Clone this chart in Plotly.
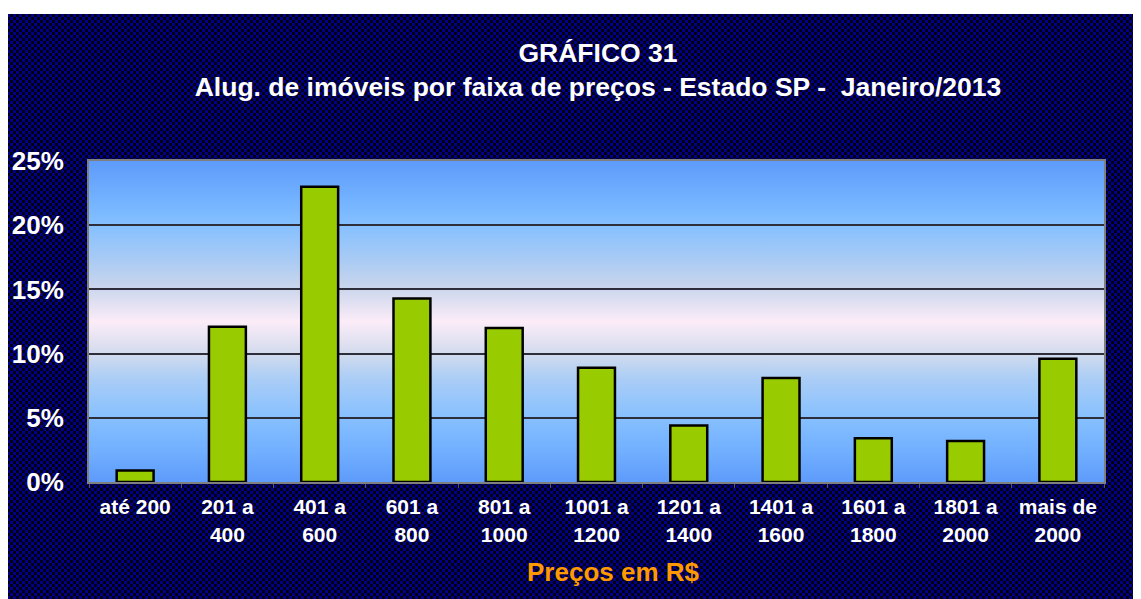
import base64
import plotly.graph_objects as go

# ---- data ----
categories = ["até 200", "201 a<br>400", "401 a<br>600", "601 a<br>800", "801 a<br>1000",
              "1001 a<br>1200", "1201 a<br>1400", "1401 a<br>1600", "1601 a<br>1800",
              "1801 a<br>2000", "mais de<br>2000"]
values = [0.9, 12.1, 23.0, 14.3, 12.0, 8.9, 4.4, 8.1, 3.4, 3.2, 9.6]
y_ticks = [0, 5, 10, 15, 20, 25]
y_tick_labels = ["0%", "5%", "10%", "15%", "20%", "25%"]
title_lines = ["GRÁFICO 31", "Alug. de imóveis por faixa de preços - Estado SP -  Janeiro/2013"]
x_title = "Preços em R$"

# ---- layout geometry (page pixels; the page body adds an 8px offset) ----
OFF = 8
W, H = 1141 - OFF, 599 - OFF
L, R, T, B = 89 - OFF, 1104 - OFF, 161 - OFF, 482 - OFF
pw, ph = R - L, B - T


def px_x(p):
    return (p - OFF - L) / pw


def px_y(p):
    return (B - (p - OFF)) / ph


def svg_uri(svg):
    return "data:image/svg+xml;base64," + base64.b64encode(svg.encode("utf-8")).decode("ascii")


pattern_svg = (
    "<svg xmlns='http://www.w3.org/2000/svg' width='1134' height='585' preserveAspectRatio='none'>"
    "<defs><pattern id='p' width='6' height='6' patternUnits='userSpaceOnUse'>"
    "<rect width='6' height='6' fill='#000010'/>"
    "<rect x='0' y='0' width='3' height='3' fill='#00008a'/>"
    "<rect x='3' y='3' width='3' height='3' fill='#00008a'/>"
    "</pattern></defs><rect width='1134' height='585' fill='url(#p)'/></svg>"
)

gradient_svg = (
    "<svg xmlns='http://www.w3.org/2000/svg' width='100' height='100' preserveAspectRatio='none'>"
    "<defs><linearGradient id='g' x1='0' y1='0' x2='0' y2='1'>"
    "<stop offset='0' stop-color='#5e9bfb'/>"
    "<stop offset='0.12' stop-color='#72b2ff'/>"
    "<stop offset='0.2' stop-color='#85c0ff'/>"
    "<stop offset='0.31' stop-color='#aacbf4'/>"
    "<stop offset='0.39' stop-color='#c8d5ec'/>"
    "<stop offset='0.5' stop-color='#fcecf8'/>"
    "<stop offset='0.6' stop-color='#d2dbed'/>"
    "<stop offset='0.68' stop-color='#aacdf6'/>"
    "<stop offset='0.8' stop-color='#86c0ff'/>"
    "<stop offset='0.9' stop-color='#72b0ff'/>"
    "<stop offset='1' stop-color='#5e9bfb'/>"
    "</linearGradient></defs><rect width='100' height='100' fill='url(#g)'/></svg>"
)

FONT = "Liberation Sans, Arial, Helvetica, sans-serif"

fig = go.Figure()
fig.add_trace(go.Bar(
    x=categories,
    y=values,
    marker=dict(color="#99cc00", line=dict(color="#000000", width=2.5)),
    width=0.4,
    hoverinfo="skip",
))

fig.update_layout(
    width=W,
    height=H,
    autosize=False,
    margin=dict(l=L, r=W - R, t=T, b=H - B, pad=0, autoexpand=False),
    paper_bgcolor="#ffffff",
    plot_bgcolor="rgba(0,0,0,0)",
    showlegend=False,
    font=dict(family=FONT, color="#ffffff", weight="bold"),
    title=dict(
        text="<br>".join(title_lines),
        x=px_x(598), xref="paper", xanchor="center",
        y=1 - 54 / H, yref="container", yanchor="middle",
        automargin=False,
        font=dict(family=FONT, size=26.5, color="#ffffff", weight="bold"),
    ),
    images=[
        dict(source=svg_uri(pattern_svg), xref="paper", yref="paper",
             x=px_x(7), y=px_y(14), sizex=(1141 - 7) / pw, sizey=(599 - 14) / ph,
             xanchor="left", yanchor="top", sizing="stretch", layer="below"),
        dict(source=svg_uri(gradient_svg), xref="paper", yref="paper",
             x=0, y=1, sizex=1, sizey=1,
             xanchor="left", yanchor="top", sizing="stretch", layer="below"),
    ],
    annotations=[
        dict(text=x_title, xref="paper", yref="paper", x=px_x(613), y=px_y(572),
             xanchor="center", yanchor="middle", showarrow=False,
             font=dict(family=FONT, size=26, color="#ff9900", weight="bold")),
    ],
)

fig.update_xaxes(
    type="category",
    automargin=False,
    showline=True, linecolor="#7f7f7f", linewidth=2, mirror=True,
    ticks="outside", tickson="boundaries", ticklen=4, tickcolor="#555555", tickwidth=1,
    tickfont=dict(family=FONT, size=21, color="#ffffff", weight="bold"),
    ticklabelstandoff=5,
    showgrid=False,
)
fig.update_yaxes(
    range=[0, 25],
    automargin=False,
    tickmode="array", tickvals=y_ticks, ticktext=y_tick_labels,
    showline=True, linecolor="#7f7f7f", linewidth=2, mirror=True,
    showgrid=True, gridcolor="#2e2e3a", gridwidth=1.5,
    zeroline=False,
    ticks="",
    tickfont=dict(family=FONT, size=26, color="#ffffff", weight="bold"),
    ticklabelstandoff=18,
)

fig.write_html("out.html")
